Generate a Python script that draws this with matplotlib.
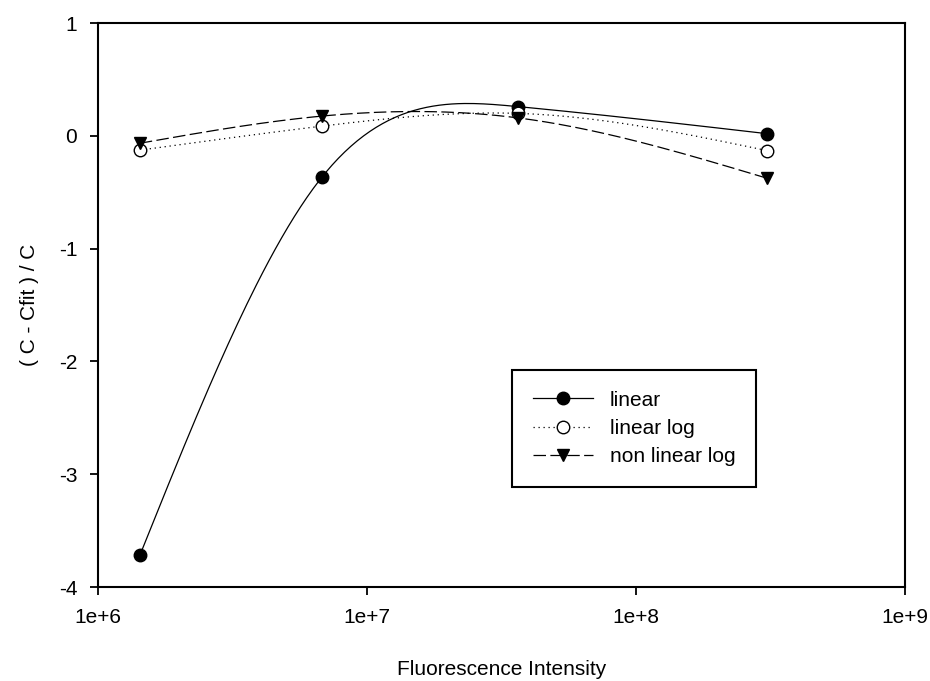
import matplotlib
matplotlib.use('Agg')
import matplotlib.pyplot as plt
import numpy as np

plt.rcParams['font.family'] = ['Liberation Sans', 'DejaVu Sans']
plt.rcParams['axes.unicode_minus'] = False

# data
intensity = [1.43e6, 6.8e6, 3.64e7, 3.07e8]
linear = [-3.72, -0.365, 0.26, 0.02]
linear_log = [-0.126, 0.087, 0.20, -0.13]
non_linear_log = [-0.065, 0.176, 0.16, -0.375]
series_names = ['linear', 'linear log', 'non linear log']
x_ticks = [1e6, 1e7, 1e8, 1e9]
x_tick_labels = ['1e+6', '1e+7', '1e+8', '1e+9']
y_ticks = [-4, -3, -2, -1, 0, 1]


def natural_spline(x, y, n=200):
    ''' natural cubic spline through the points, x in log space '''
    x = np.asarray(x, float)
    y = np.asarray(y, float)
    k = len(x)
    h = np.diff(x)
    A = np.zeros((k, k))
    b = np.zeros(k)
    A[0, 0] = 1
    A[-1, -1] = 1
    for i in range(1, k - 1):
        A[i, i - 1] = h[i - 1]
        A[i, i] = 2 * (h[i - 1] + h[i])
        A[i, i + 1] = h[i]
        b[i] = 6 * ((y[i + 1] - y[i]) / h[i] - (y[i] - y[i - 1]) / h[i - 1])
    m = np.linalg.solve(A, b)
    xs = np.linspace(x[0], x[-1], n)
    ys = np.empty_like(xs)
    for j, xv in enumerate(xs):
        i = min(np.searchsorted(x, xv, side='right') - 1, k - 2)
        t = xv - x[i]
        hi = h[i]
        a = (m[i + 1] - m[i]) / (6 * hi)
        bb = m[i] / 2
        c = (y[i + 1] - y[i]) / hi - hi * (2 * m[i] + m[i + 1]) / 6
        ys[j] = y[i] + c * t + bb * t ** 2 + a * t ** 3
    return xs, ys


fig = plt.figure(figsize=(9.3, 6.81), dpi=100)
ax = fig.add_axes([0.1054, 0.138, 0.8677, 0.828])

lx = np.log10(intensity)
styles = [
    dict(ls='-', marker='o', mfc='black', dashes=None),
    dict(ls=':', marker='o', mfc='white', dashes=(1, 3)),
    dict(ls='--', marker='v', mfc='black', dashes=(10, 3.5)),
]
for name, vals, st in zip(series_names, [linear, linear_log, non_linear_log], styles):
    xs, ys = natural_spline(lx, vals)
    line, = ax.plot(10 ** xs, ys, color='black', lw=0.9, ls=st['ls'])
    if st['dashes'] is not None:
        line.set_dashes(st['dashes'])
    ax.plot(intensity, vals, ls='none', marker=st['marker'], ms=9,
            mfc=st['mfc'], mec='black', mew=1.0)
    # proxy for the legend
    h, = ax.plot([], [], color='black', lw=0.9, ls=st['ls'], marker=st['marker'],
                 ms=9, mfc=st['mfc'], mec='black', label=name)
    if st['dashes'] is not None:
        h.set_dashes(st['dashes'])

ax.set_xscale('log')
ax.set_xlim(1e6, 1e9)
ax.set_ylim(-4, 1)
ax.set_xticks(x_ticks)
ax.set_xticklabels(x_tick_labels)
ax.xaxis.set_minor_locator(matplotlib.ticker.NullLocator())
ax.set_yticks(y_ticks)
ax.tick_params(direction='out', length=6, width=1.3, labelsize=15, pad=9,
               top=False, right=False)
for s in ax.spines.values():
    s.set_linewidth(1.5)

ax.set_xlabel('Fluorescence Intensity', fontsize=15, labelpad=24)
ax.set_ylabel('( C - Cfit ) / C', fontsize=15, labelpad=14)

leg = ax.legend(loc='lower left', bbox_to_anchor=(0.513, 0.177), fontsize=15,
                frameon=True, fancybox=False, edgecolor='black', framealpha=1,
                handlelength=2.9, handletextpad=0.8, labelspacing=0.45,
                borderpad=1.0, borderaxespad=0)
leg.get_frame().set_linewidth(1.5)

fig.savefig('out.png', dpi=100)
